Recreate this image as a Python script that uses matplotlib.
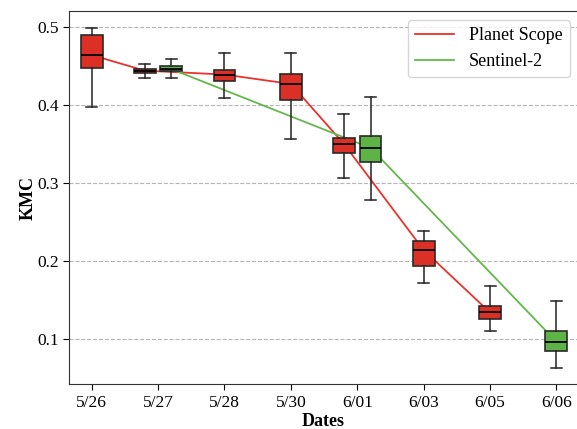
import matplotlib.pyplot as plt

plt.rcParams['font.family'] = ['Liberation Serif', 'DejaVu Serif']

dates = ["5/26", "5/27", "5/28", "5/30", "6/01", "6/03", "6/05", "6/06"]

# Planet Scope box stats (date index, whislo, q1, med, q3, whishi)
ps_idx = [0, 1, 2, 3, 4, 5, 6]
ps_whislo = [0.398, 0.435, 0.409, 0.357, 0.306, 0.172, 0.110]
ps_q1 = [0.448, 0.441, 0.431, 0.406, 0.338, 0.194, 0.125]
ps_med = [0.464, 0.444, 0.439, 0.427, 0.350, 0.214, 0.134]
ps_q3 = [0.490, 0.446, 0.445, 0.440, 0.358, 0.225, 0.142]
ps_whishi = [0.499, 0.453, 0.466, 0.467, 0.389, 0.238, 0.168]

# Sentinel-2 box stats
s2_idx = [1, 4, 7]
s2_whislo = [0.434, 0.278, 0.063]
s2_q1 = [0.443, 0.327, 0.084]
s2_med = [0.446, 0.345, 0.0965]
s2_q3 = [0.450, 0.360, 0.110]
s2_whishi = [0.459, 0.410, 0.149]

red_fill = '#dc3027'
red_line = '#e8332b'
green_fill = '#5db346'
green_line = '#63b84a'


def make_stats(lo, q1, med, q3, hi):
    return [dict(whislo=a, q1=b, med=c, q3=d, whishi=e, fliers=[])
            for a, b, c, d, e in zip(lo, q1, med, q3, hi)]


def positions(idx, other, shift):
    # boxes sharing a date with the other sensor get moved aside
    return [i + shift if i in other else i for i in idx]


fig = plt.figure(figsize=(5.77, 4.29), dpi=100)
ax = fig.add_axes([0.1201, 0.1042, 0.8799, 0.8702])

ps_pos = positions(ps_idx, s2_idx, -0.2)
s2_pos = positions(s2_idx, ps_idx, 0.2)

ax.plot(ps_pos, ps_med, color=red_line, lw=1.3, zorder=2, label='Planet Scope')
ax.plot(s2_pos, s2_med, color=green_line, lw=1.3, zorder=2, label='Sentinel-2')

common = dict(widths=0.33, patch_artist=True, showfliers=False, manage_ticks=False,
              whiskerprops=dict(color='#222222', lw=1.1),
              capprops=dict(color='#222222', lw=1.1),
              medianprops=dict(color='black', lw=1.3), zorder=3)
ax.bxp(make_stats(ps_whislo, ps_q1, ps_med, ps_q3, ps_whishi), positions=ps_pos,
       boxprops=dict(facecolor=red_fill, edgecolor='#2a2a2a', lw=1.2), **common)
ax.bxp(make_stats(s2_whislo, s2_q1, s2_med, s2_q3, s2_whishi), positions=s2_pos,
       boxprops=dict(facecolor=green_fill, edgecolor='#2a2a2a', lw=1.2), **common)

ax.set_xticks(range(len(dates)))
ax.set_xticklabels(dates)
ax.set_yticks([0.1, 0.2, 0.3, 0.4, 0.5])
ax.set_yticklabels(['0.1', '0.2', '0.3', '0.4', '0.5'])
ax.set_xlim(-0.337, 7.31)
ax.set_ylim(0.0419, 0.5205)
ax.tick_params(labelsize=12.5, length=4)
ax.grid(axis='y', linestyle='--', color='#b5b5b5', lw=0.8)
ax.set_axisbelow(True)
ax.spines['right'].set_visible(False)
for s in ['left', 'bottom', 'top']:
    ax.spines[s].set_color('#333333')

ax.set_xlabel('Dates', fontsize=13, fontweight='bold', labelpad=2)
ax.set_ylabel('KMC', fontsize=13, fontweight='bold', labelpad=0.5)
ax.legend(loc='upper right', fontsize=13, bbox_to_anchor=(0.986, 0.976),
          borderaxespad=0, handlelength=2.2)

plt.savefig('out.png', dpi=100)
